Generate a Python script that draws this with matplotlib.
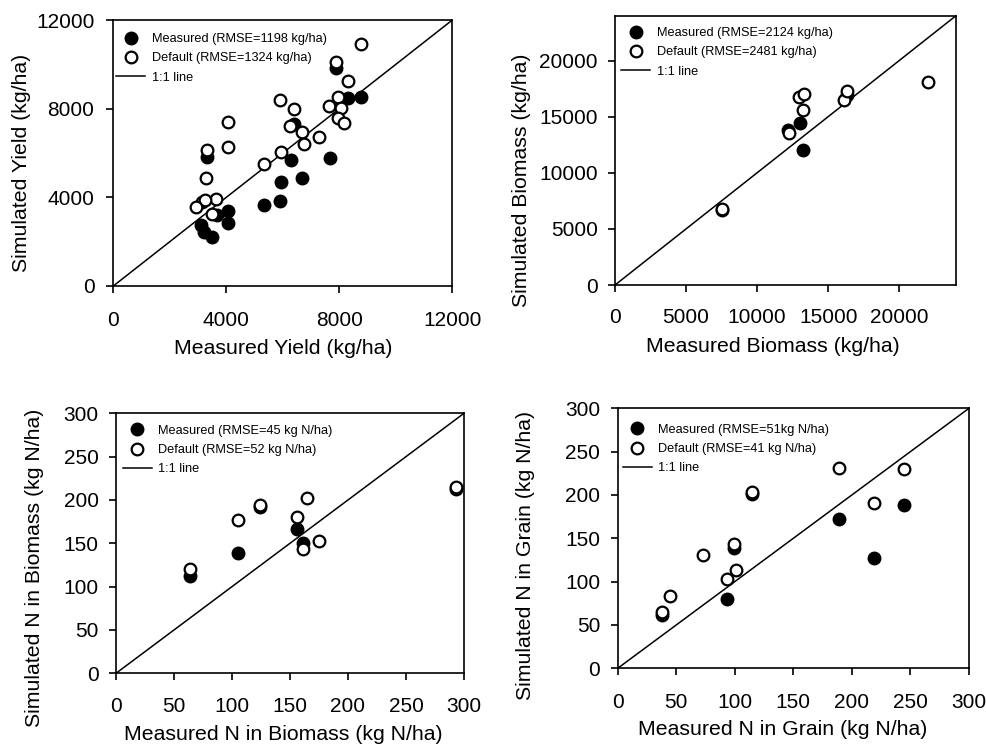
import matplotlib
matplotlib.use("Agg")
import matplotlib.pyplot as plt
from matplotlib.lines import Line2D

plt.rcParams['font.family'] = ['Liberation Sans', 'DejaVu Sans']

# ---- Grain yield (kg/ha) ----
yield_meas_x = [3330, 7870, 8320, 8760, 6410, 6290, 7670, 5920, 6690, 5320, 5900, 4050, 4050, 3100, 3210, 3500, 3660]
yield_meas_y = [5840, 9820, 8500, 8540, 7290, 5670, 5760, 4680, 4860, 3650, 3840, 3380, 2840, 2750, 2450, 2230, 3200]
yield_def_x = [8770, 7880, 8300, 7940, 7650, 8050, 7940, 8170, 5900, 6400, 6250, 6680, 6760, 7280,
               5920, 5320, 4050, 4050, 3330, 3280, 3620, 3140, 3240, 2930, 3490]
yield_def_y = [10920, 10120, 9250, 8510, 8120, 8020, 7590, 7350, 8380, 7970, 7200, 6950, 6390, 6720,
               6050, 5500, 7410, 6290, 6140, 4860, 3930, 3780, 3860, 3580, 3240]

# ---- Biomass (kg/ha) ----
bio_meas_x = [7520, 12200, 13000, 13210, 16330]
bio_meas_y = [6700, 13850, 14420, 12000, 16900]
bio_def_x = [7520, 12220, 12930, 13280, 13210, 16150, 16330, 22020]
bio_def_y = [6810, 13580, 16720, 17020, 15580, 16480, 17310, 18090]

# ---- N in biomass (kg N/ha) ----
nbio_meas_x = [64, 105, 124, 156, 161, 293]
nbio_meas_y = [112, 139, 192, 167, 150, 213]
nbio_def_x = [64, 105, 124, 156, 165, 161, 175, 293]
nbio_def_y = [120, 177, 194, 180, 202, 144, 153, 215]

# ---- N in grain (kg N/ha) ----
ngr_meas_x = [37.6, 99.6, 93.6, 189, 219, 244.5, 114.4]
ngr_meas_y = [61.5, 138.5, 80.4, 172, 127, 189, 200.8]
ngr_def_x = [37.6, 44.7, 72.6, 99.6, 114.4, 93.6, 100.7, 189, 219, 244.5]
ngr_def_y = [65.4, 83.5, 130.8, 144, 203, 103, 113.5, 231, 190.4, 230.4]

panels = [
    dict(rect=[0.1148, 0.6156, 0.3435, 0.3575], lim=12000, ticks=[0, 4000, 8000, 12000],
         mx=yield_meas_x, my=yield_meas_y, dx=yield_def_x, dy=yield_def_y,
         xlabel='Measured Yield (kg/ha)', ylabel='Simulated Yield (kg/ha)',
         meas='Measured (RMSE=1198 kg/ha)', dflt='Default (RMSE=1324 kg/ha)',
         xpad=13.0, ypad=8.4, xl=(0.500, -0.234), yl=(-0.270, 0.464), leg=(0.008, 0.951)),
    dict(rect=[0.6231, 0.6169, 0.3455, 0.3620], lim=24000, ticks=[0, 5000, 10000, 15000, 20000],
         mx=bio_meas_x, my=bio_meas_y, dx=bio_def_x, dy=bio_def_y,
         xlabel='Measured Biomass (kg/ha)', ylabel='Simulated Biomass (kg/ha)',
         meas='Measured (RMSE=2124 kg/ha)', dflt='Default (RMSE=2481 kg/ha)',
         xpad=11.2, ypad=7.2, xl=(0.4625, -0.229), yl=(-0.273, 0.39), leg=(0.0176, 0.958)),
    dict(rect=[0.1175, 0.0950, 0.3526, 0.3495], lim=300, ticks=[0, 50, 100, 150, 200, 250, 300],
         mx=nbio_meas_x, my=nbio_meas_y, dx=nbio_def_x, dy=nbio_def_y,
         xlabel='Measured N in Biomass (kg N/ha)', ylabel='Simulated N in Biomass (kg N/ha)',
         meas='Measured (RMSE=45 kg N/ha)', dflt='Default (RMSE=52 kg N/ha)',
         xpad=11.7, ypad=7.2, xl=(0.481, -0.237), yl=(-0.233, 0.407), leg=(0.019, 0.956)),
    dict(rect=[0.6258, 0.1017, 0.3559, 0.3495], lim=300, ticks=[0, 50, 100, 150, 200, 250, 300],
         mx=ngr_meas_x, my=ngr_meas_y, dx=ngr_def_x, dy=ngr_def_y,
         xlabel='Measured N in Grain (kg N/ha)', ylabel='Simulated N in Grain (kg N/ha)',
         meas='Measured (RMSE=51kg N/ha)', dflt='Default (RMSE=41 kg N/ha)',
         xpad=12.7, ypad=7.4, xl=(0.470, -0.2346), yl=(-0.261, 0.436), leg=(0.0142, 0.940)),
]

fig = plt.figure(figsize=(9.87, 7.44), dpi=100)

ms, mew = 8.4, 1.6
for p in panels:
    ax = fig.add_axes(p['rect'])
    lim = p['lim']
    ax.plot([0, lim], [0, lim], color='black', lw=1.1, zorder=2)
    ax.plot(p['mx'], p['my'], 'o', ms=ms, mfc='black', mec='black', mew=mew, zorder=3)
    ax.plot(p['dx'], p['dy'], 'o', ms=ms, mfc='white', mec='black', mew=mew, zorder=4)
    ax.set_xlim(0, lim)
    ax.set_ylim(0, lim)
    ax.set_xticks(p['ticks'])
    ax.set_yticks(p['ticks'])
    for s in ax.spines.values():
        s.set_linewidth(1.2)
    ax.tick_params(direction='out', length=5.2, width=1.2, labelsize=15)
    ax.tick_params(axis='x', pad=p['xpad'])
    ax.tick_params(axis='y', pad=p['ypad'])
    ax.set_xlabel(p['xlabel'], fontsize=15.3, va='center')
    ax.set_ylabel(p['ylabel'], fontsize=15.3, va='center')
    ax.xaxis.set_label_coords(*p['xl'])
    ax.yaxis.set_label_coords(*p['yl'])

    handles = [
        Line2D([], [], ls='none', marker='o', ms=ms, mfc='black', mec='black', mew=mew),
        Line2D([], [], ls='none', marker='o', ms=ms, mfc='white', mec='black', mew=mew),
        Line2D([], [], color='black', lw=1.1),
    ]
    ax.legend(handles, [p['meas'], p['dflt'], '1:1 line'], loc='upper left',
              bbox_to_anchor=p['leg'], frameon=False, fontsize=9.2, borderpad=0,
              borderaxespad=0, handlelength=2.3, handletextpad=0.5,
              labelspacing=0.57, numpoints=1)

fig.savefig('out.png', dpi=100)
